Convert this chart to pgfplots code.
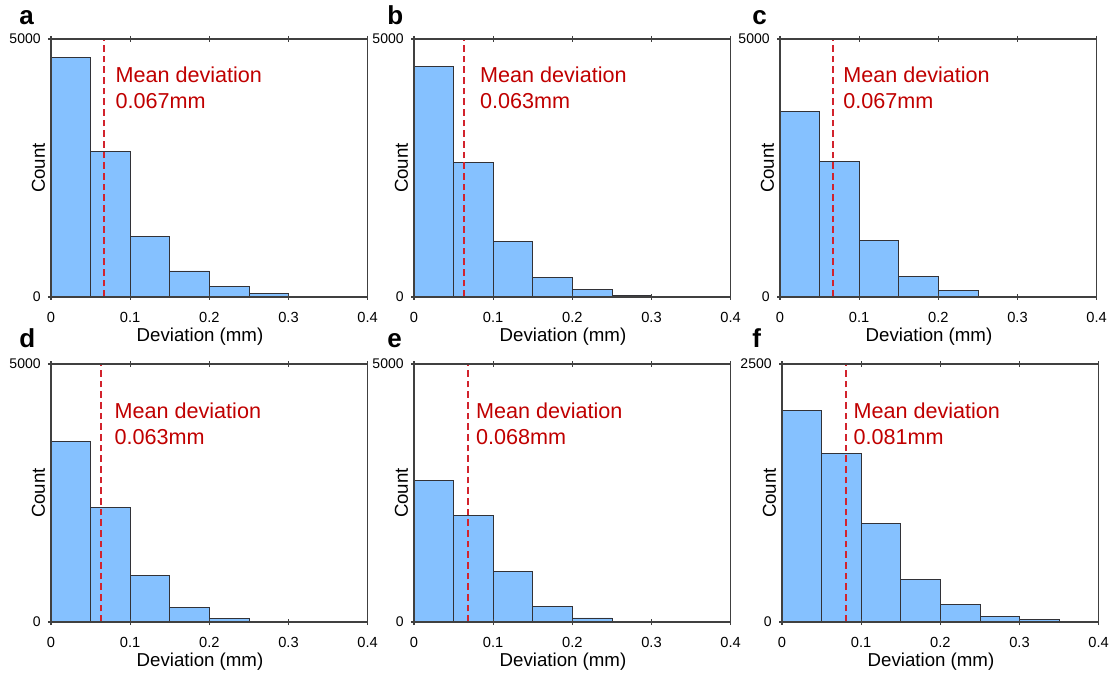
\documentclass[border=0pt]{standalone}
\usepackage{fontspec}
\setmainfont{Liberation Sans}
\usepackage{pgfplots}
\pgfplotsset{compat=1.18}
\definecolor{barblue}{RGB}{133,193,255}
\definecolor{baredge}{RGB}{50,50,55}
\definecolor{meanred}{RGB}{210,35,45}
\definecolor{txtred}{RGB}{192,0,0}
\definecolor{axgray}{RGB}{64,64,64}

\pgfplotsset{
  hist/.style={
    scale only axis, width=237.5pt, height=193.5pt,
    anchor=north west,
    xmin=0, xmax=0.4, ymin=0,
    xtick={0,0.1,0.2,0.3,0.4},
    xticklabels={0,0.1,0.2,0.3,0.4},
    ytick pos=left,
    tick align=center, major tick length=4.5pt,
    axis line style={axgray, line width=1.2pt},
    every tick/.style={axgray, line width=1pt},
    xticklabel style={font=\fontsize{11}{13}\selectfont, yshift=-5.5pt},
    yticklabel style={font=\fontsize{10.5}{12}\selectfont, xshift=-2pt},
    xlabel={Deviation (mm)}, ylabel={Count},
    xlabel style={font=\fontsize{14}{16}\selectfont, at={(axis description cs:0.5,0)},
      anchor=north, inner sep=0pt, yshift=-23pt, xshift=-7pt},
    ylabel style={font=\fontsize{14}{16}\selectfont, at={(axis description cs:-0.035,0.5)},
      anchor=south, inner sep=0pt, yshift=-4pt},
    axis on top,
    clip=false,
  },
  bars/.style={ybar interval, fill=barblue, draw=baredge, line width=0.6pt},
  mean/.style={meanred, dashed, line width=1.2pt, dash pattern=on 5pt off 3pt},
}
\newcommand{\meantext}[3]{%
  \node[anchor=north west, inner sep=0pt, align=left, text=txtred,
        font=\fontsize{16.2}{19}\selectfont]
    at (rel axis cs:#1,1) [yshift=-#2] {Mean deviation\\#3};}

\begin{document}
\begin{tikzpicture}
\useasboundingbox (0,0) rectangle (834.75pt,504pt);

% a
\begin{axis}[hist, at={(38.25pt,474.75pt)}, ymax=5000, ytick={0,5000}, yticklabels={0,5000}]
\addplot[bars] coordinates {(0,4645)(0.05,2829)(0.1,1176)(0.15,504)(0.2,213)(0.25,72)(0.3,0)};
\addplot[mean] coordinates {(0.067,0)(0.067,5000)};
\meantext{0.203}{21pt}{0.067mm}
\end{axis}

% b
\begin{axis}[hist, at={(310.5pt,474.75pt)}, ymax=5000, ytick={0,5000}, yticklabels={0,5000}]
\addplot[bars] coordinates {(0,4464)(0.05,2610)(0.1,1079)(0.15,375)(0.2,142)(0.25,26)(0.3,0)};
\addplot[mean] coordinates {(0.063,0)(0.063,5000)};
\meantext{0.208}{21pt}{0.063mm}
\end{axis}

% c
\begin{axis}[hist, at={(585pt,474.75pt)}, ymax=5000, ytick={0,5000}, yticklabels={0,5000}]
\addplot[bars] coordinates {(0,3604)(0.05,2632)(0.1,1100)(0.15,405)(0.2,129)(0.25,19)(0.3,0)};
\addplot[mean] coordinates {(0.067,0)(0.067,5000)};
\meantext{0.199}{21pt}{0.067mm}
\end{axis}

% d
\begin{axis}[hist, at={(38.25pt,231pt)}, ymax=5000, ytick={0,5000}, yticklabels={0,5000}]
\addplot[bars] coordinates {(0,3495)(0.05,2218)(0.1,895)(0.15,279)(0.2,65)(0.25,13)(0.3,0)};
\addplot[mean] coordinates {(0.063,0)(0.063,5000)};
\meantext{0.2}{29.25pt}{0.063mm}
\end{axis}

% e
\begin{axis}[hist, at={(310.5pt,231pt)}, ymax=5000, ytick={0,5000}, yticklabels={0,5000}]
\addplot[bars] coordinates {(0,2745)(0.05,2061)(0.1,975)(0.15,310)(0.2,78)(0.25,19)(0.3,0)};
\addplot[mean] coordinates {(0.068,0)(0.068,5000)};
\meantext{0.195}{29.25pt}{0.068mm}
\end{axis}

% f
\begin{axis}[hist, at={(586.5pt,231pt)}, ymax=2500, ytick={0,2500}, yticklabels={0,2500}]
\addplot[bars] coordinates {(0,2047)(0.05,1633)(0.1,954)(0.15,411)(0.2,168)(0.25,55)(0.3,26)(0.35,0)};
\addplot[mean] coordinates {(0.081,0)(0.081,2500)};
\meantext{0.225}{29.25pt}{0.081mm}
\end{axis}

\begin{scope}[every node/.style={anchor=base west, inner sep=0pt, font=\fontsize{19.5}{22}\selectfont\bfseries}]
\node at (14.25pt,485.25pt) {a};
\node at (290.25pt,485.25pt) {b};
\node at (564pt,485.25pt) {c};
\node at (14.25pt,243.75pt) {d};
\node at (290.25pt,243.75pt) {e};
\node at (564pt,243.75pt) {f};
\end{scope}
\end{tikzpicture}
\end{document}
